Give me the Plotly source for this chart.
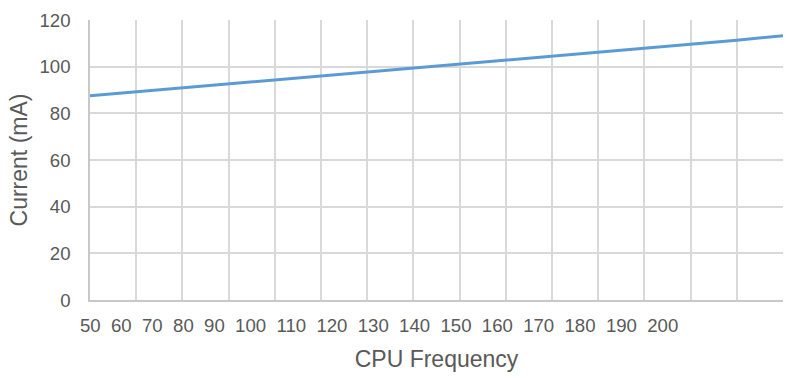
import plotly.graph_objects as go

freq = [50, 60, 70, 80, 90, 100, 110, 120, 130, 140, 150, 160, 170, 180, 190, 200]
current = [87.5, 89.2, 90.9, 92.6, 94.3, 96.0, 97.7, 99.4, 101.1, 102.8, 104.5, 106.2, 107.9, 109.6, 111.3, 113.3]
freq_labels = [str(f) for f in freq]
y_ticks = [0, 20, 40, 60, 80, 100, 120]

FONT = "Liberation Sans, Arial, sans-serif"
GRAY = "#595959"
GRID = "#d9d9d9"
FS = 18.6
TS = 23

joined = "\u00a0\u00a0".join(freq_labels)

fig = go.Figure()
fig.add_trace(go.Scatter(x=freq, y=current, mode="lines",
                         line=dict(color="#5b9bd5", width=3),
                         hoverinfo="skip", showlegend=False))
fig.add_trace(go.Scatter(x=freq, y=current, mode="lines", xaxis="x2",
                         line=dict(color="rgba(0,0,0,0)", width=0),
                         hoverinfo="skip", showlegend=False))

fig.update_layout(
    width=789, height=378,
    margin=dict(l=90, r=6, t=20, b=78),
    paper_bgcolor="white", plot_bgcolor="white",
    font=dict(family=FONT, color=GRAY, size=FS),
    xaxis=dict(range=[freq[0], freq[-1]], tick0=freq[0], dtick=10,
               showticklabels=False, ticks="",
               showgrid=True, gridcolor=GRID, gridwidth=1.5,
               showline=True, linecolor="#c8c8c8", linewidth=1.5,
               zeroline=False,
               title=dict(text="CPU Frequency", font=dict(size=TS, color=GRAY),
                          standoff=50)),
    xaxis2=dict(overlaying="x", side="bottom", range=[freq[0], freq[-1]],
                tickvals=[freq[0]], ticktext=[joined],
                ticklabelposition="outside right", ticklabelshift=-10,
                ticklabelstandoff=12, ticks="",
                showgrid=False, showline=False, zeroline=False,
                tickfont=dict(size=FS, color=GRAY)),
    yaxis=dict(range=[0, 120], tickvals=y_ticks,
               showgrid=True, gridcolor=GRID, gridwidth=1.5,
               showline=True, linecolor="#c8c8c8", linewidth=1.5,
               zeroline=False, ticks="", ticklabelstandoff=14,
               tickfont=dict(size=FS, color=GRAY),
               title=dict(text="Current (mA)", font=dict(size=TS, color=GRAY),
                          standoff=5)),
)

fig.write_html("out.html")
